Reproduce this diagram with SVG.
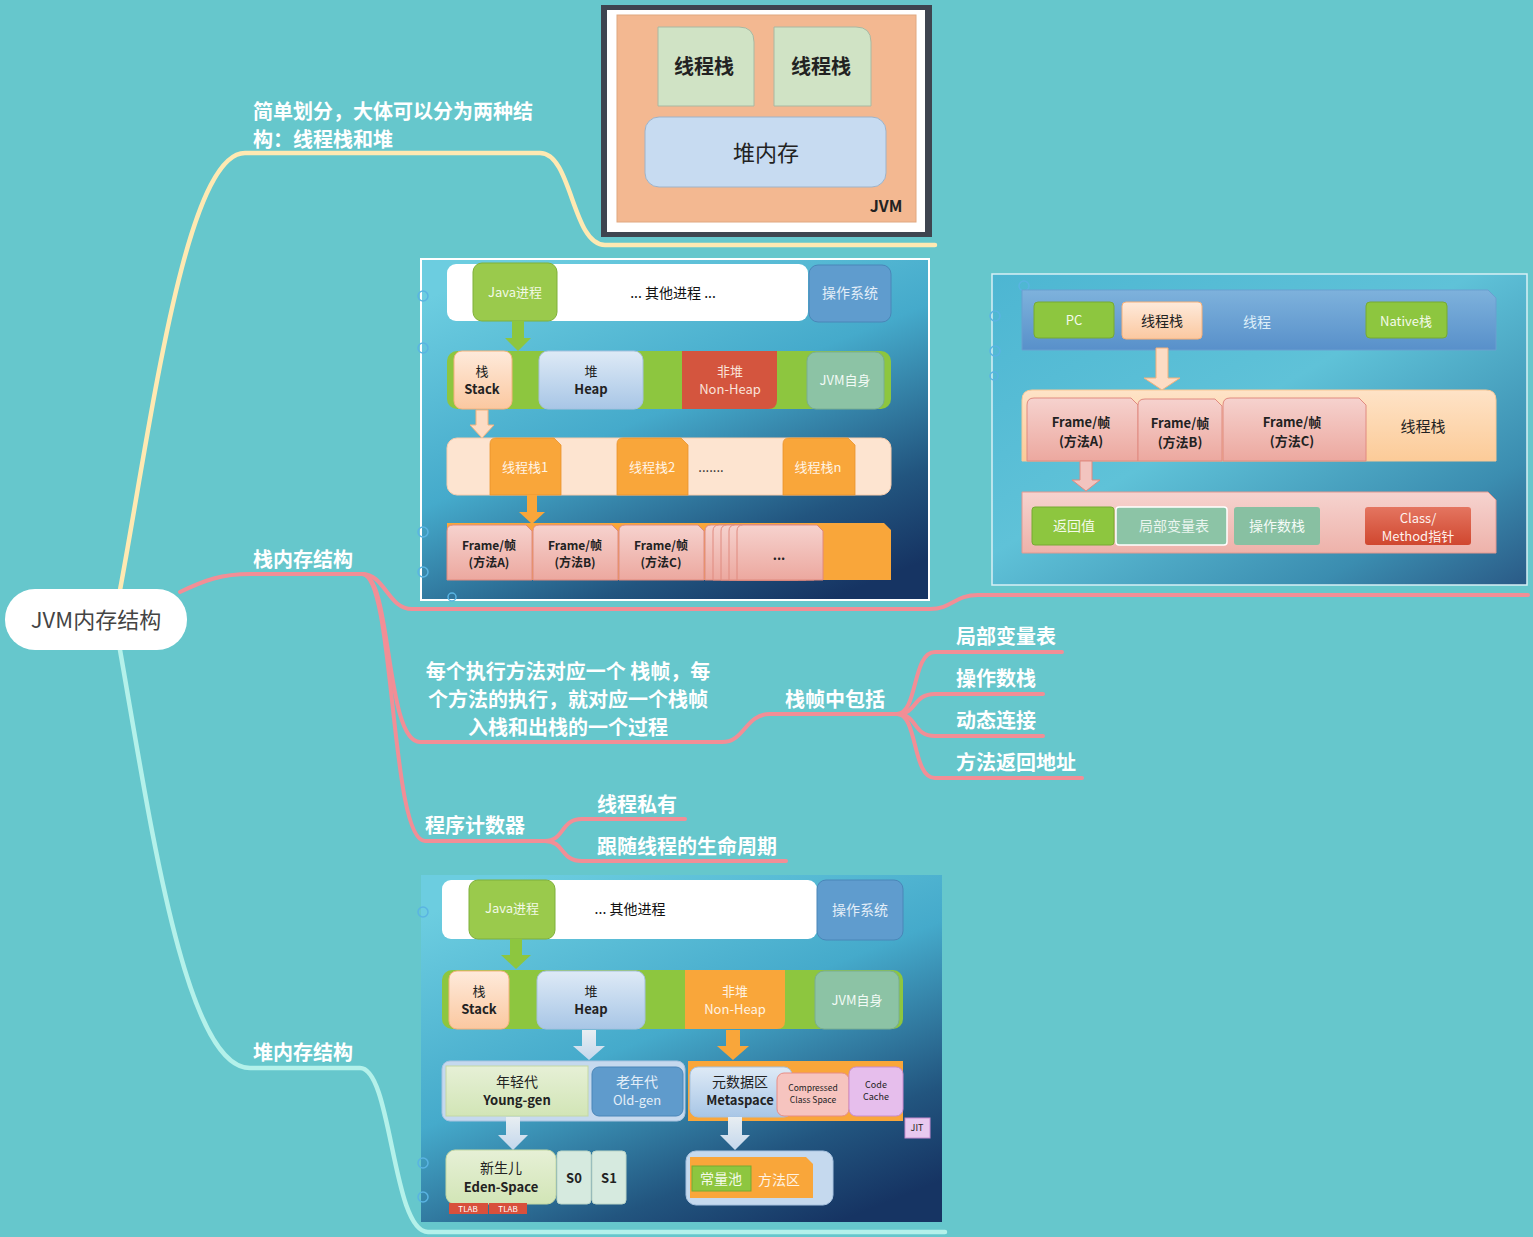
<svg xmlns="http://www.w3.org/2000/svg" width="1533" height="1237" viewBox="0 0 1533 1237">
<defs>
<style>
text{font-family:"Noto Sans CJK SC","Noto Sans",sans-serif;}
.lbl{fill:#ffffff;font-size:20px;font-weight:bold;}
.c{text-anchor:middle;}
.dk{fill:#222;}
.s13{font-size:13px;}
.s12{font-size:12px;}
.s14{font-size:14px;}
.b{font-weight:bold;}
.br{fill:none;stroke-linecap:round;stroke-linejoin:round;}
.pink{stroke:#F28E96;stroke-width:4;}
.yel{stroke:#FFE9B2;stroke-width:4.5;}
.mint{stroke:#B4F1EA;stroke-width:4.5;}
.grn{fill:#8DC63F;}
.org{fill:#F9A63A;}
.deco{fill:none;stroke:#5AB4E2;stroke-width:1.5;}
</style>
<linearGradient id="bg" x1="0.2" y1="0" x2="0.8" y2="1">
<stop offset="0" stop-color="#6CCDE0"/>
<stop offset="0.45" stop-color="#45AACB"/>
<stop offset="0.8" stop-color="#22557F"/>
<stop offset="1" stop-color="#163463"/>
</linearGradient>
<linearGradient id="bg2" x1="0" y1="0" x2="1" y2="1">
<stop offset="0" stop-color="#4DB6D2"/>
<stop offset="0.45" stop-color="#5FC2D8"/>
<stop offset="0.8" stop-color="#3B8DB0"/>
<stop offset="1" stop-color="#2A5A86"/>
</linearGradient>
<linearGradient id="peach" x1="0" y1="0" x2="0" y2="1">
<stop offset="0" stop-color="#FEEADB"/>
<stop offset="1" stop-color="#FBC8A0"/>
</linearGradient>
<linearGradient id="lblue" x1="0" y1="0" x2="0" y2="1">
<stop offset="0" stop-color="#DEEAF6"/>
<stop offset="1" stop-color="#A8C6E6"/>
</linearGradient>
<linearGradient id="frm" x1="0" y1="0" x2="0" y2="1">
<stop offset="0" stop-color="#F6D2CE"/>
<stop offset="1" stop-color="#ECA89F"/>
</linearGradient>
<linearGradient id="pband" x1="0" y1="0" x2="0" y2="1">
<stop offset="0" stop-color="#F6D3CF"/>
<stop offset="1" stop-color="#EEB2AA"/>
</linearGradient>
<linearGradient id="bband" x1="0" y1="0" x2="0" y2="1">
<stop offset="0" stop-color="#7EB2DC"/>
<stop offset="1" stop-color="#5890CA"/>
</linearGradient>
<linearGradient id="oband" x1="0" y1="0" x2="0" y2="1">
<stop offset="0" stop-color="#FEE3C7"/>
<stop offset="1" stop-color="#FCCB98"/>
</linearGradient>
<linearGradient id="red" x1="0" y1="0" x2="0" y2="1">
<stop offset="0" stop-color="#E47560"/>
<stop offset="1" stop-color="#D0472F"/>
</linearGradient>
<linearGradient id="lgrn" x1="0" y1="0" x2="0" y2="1">
<stop offset="0" stop-color="#E6F0D6"/>
<stop offset="1" stop-color="#D2E5B6"/>
</linearGradient>
<linearGradient id="arrl" x1="0" y1="0" x2="0" y2="1">
<stop offset="0" stop-color="#E8EEF2"/>
<stop offset="1" stop-color="#C3D7EC"/>
</linearGradient>
</defs>

<rect x="0" y="0" width="1533" height="1237" fill="#66C7CC"/>

<g id="connectors">
<path class="br yel" d="M120 590 C150 430 185 153 245 153 L540 153 C572 153 572 245 605 245 L935 245"/>
<path class="br mint" d="M120 650 C150 820 185 1068 250 1068 L360 1068 C392 1068 392 1232 428 1232 L945 1232"/>
<path class="br pink" d="M180 592 C205 580 222 574 250 574 L362 574"/>
<path class="br pink" d="M362 574 C385 574 388 609 412 609 L930 609 C952 609 955 595 978 595 L1528 595"/>
<path class="br pink" d="M362 574 C392 574 385 742 420 742 L722 742 C745 742 745 714 770 714 L897 714"/>
<path class="br pink" d="M362 574 C395 574 390 841 425 841 L545 841"/>
<path class="br pink" d="M897 714 C918 714 912 652 935 652 L1062 652"/>
<path class="br pink" d="M897 714 C918 714 912 694 935 694 L1043 694"/>
<path class="br pink" d="M897 714 C918 714 912 736 935 736 L1043 736"/>
<path class="br pink" d="M897 714 C918 714 912 778 935 778 L1082 778"/>
<path class="br pink" d="M545 841 C565 841 560 819 582 819 L685 819"/>
<path class="br pink" d="M545 841 C565 841 560 861 582 861 L786 861"/>
</g>

<g id="root">
<rect x="5" y="589" width="182" height="61" rx="30" fill="#ffffff"/>
<text x="96" y="628" class="c" font-size="22" fill="#444">JVM内存结构</text>
</g>

<g id="n-simple">
<text x="253" y="119" class="lbl">简单划分，大体可以分为两种结</text>
<text x="253" y="147" class="lbl">构：线程栈和堆</text>
</g>
<g id="n-stack"><text x="253" y="567" class="lbl">栈内存结构</text></g>
<g id="n-heap"><text x="253" y="1060" class="lbl">堆内存结构</text></g>
<g id="n-frame-desc">
<text x="568" y="679" class="lbl c">每个执行方法对应一个 栈帧，每</text>
<text x="568" y="707" class="lbl c">个方法的执行，就对应一个栈帧</text>
<text x="568" y="735" class="lbl c">入栈和出栈的一个过程</text>
</g>
<g id="n-frame-inc"><text x="785" y="707" class="lbl">栈帧中包括</text></g>
<g id="n-lv"><text x="956" y="644" class="lbl">局部变量表</text></g>
<g id="n-os"><text x="956" y="686" class="lbl">操作数栈</text></g>
<g id="n-dl"><text x="956" y="728" class="lbl">动态连接</text></g>
<g id="n-ra"><text x="956" y="770" class="lbl">方法返回地址</text></g>
<g id="n-pc"><text x="425" y="833" class="lbl">程序计数器</text></g>
<g id="n-priv"><text x="597" y="812" class="lbl">线程私有</text></g>
<g id="n-life"><text x="597" y="854" class="lbl">跟随线程的生命周期</text></g>

<!-- Image 1: simple JVM -->
<g id="img-jvm">
<rect x="601" y="5" width="331" height="232" fill="#3E4550"/>
<rect x="607" y="10" width="318" height="222" fill="#FFFFFF"/>
<rect x="617" y="15" width="299" height="207" fill="#F3B891" stroke="#E0A880" stroke-width="1"/>
<path d="M658 27 H739 Q754 27 754 42 V106 H658 Z" fill="#D0E3C5" stroke="#A9B8A2"/>
<path d="M774 27 H856 Q871 27 871 42 V106 H774 Z" fill="#D0E3C5" stroke="#A9B8A2"/>
<text x="704" y="74" class="c b" font-size="20" fill="#222">线程栈</text>
<text x="821" y="74" class="c b" font-size="20" fill="#222">线程栈</text>
<rect x="645" y="117" width="241" height="70" rx="14" fill="#C7DBF1" stroke="#9FB3C8"/>
<text x="766" y="161" class="c" font-size="22" fill="#222">堆内存</text>
<text x="886" y="212" class="c b" font-size="16" fill="#222">JVM</text>
</g>

<!-- Image 2: stack structure -->
<g id="img-stack">
<rect x="421" y="259" width="508" height="341" fill="url(#bg)" stroke="#FFFFFF" stroke-width="2"/>
<circle cx="423" cy="296" r="5" class="deco"/>
<circle cx="423" cy="348" r="5" class="deco"/>
<circle cx="423" cy="532" r="5" class="deco"/>
<circle cx="423" cy="572" r="5" class="deco"/>
<circle cx="452" cy="597" r="4" class="deco"/>
<rect x="447" y="264" width="361" height="57" rx="9" fill="#FFFFFF"/>
<rect x="473" y="263" width="84" height="58" rx="9" fill="#9ACA4C" stroke="#7FB03A"/>
<text x="515" y="297" class="c s13" fill="#F2F9E6">Java进程</text>
<text x="673" y="298" class="c s14" fill="#111">... 其他进程 ...</text>
<rect x="809" y="265" width="82" height="57" rx="9" fill="#5F9CCE" stroke="#4A86B8"/>
<text x="850" y="298" class="c s14" fill="#E3EEF8">操作系统</text>
<path d="M512 321 H524 V338 H531 L518 351 L505 338 H512 Z" class="grn"/>
<rect x="447" y="351" width="444" height="58" rx="10" class="grn"/>
<rect x="454" y="351" width="58" height="58" rx="8" fill="url(#peach)" stroke="#F5B27C"/>
<text x="482" y="376" class="c s13" fill="#222">栈</text>
<text x="482" y="394" class="c s13 b" fill="#222">Stack</text>
<rect x="539" y="351" width="104" height="58" rx="9" fill="url(#lblue)" stroke="#A5C1DE"/>
<text x="591" y="376" class="c s13" fill="#222">堆</text>
<text x="591" y="394" class="c s13 b" fill="#222">Heap</text>
<path d="M682 351 H777 V400 Q777 409 768 409 H682 Z" fill="#D4553E"/>
<text x="730" y="376" class="c s13" fill="#FAE3DA">非堆</text>
<text x="730" y="394" class="c s13" fill="#FAE3DA">Non-Heap</text>
<rect x="807" y="352" width="77" height="57" rx="9" fill="#8CC3A5" stroke="#79AE92"/>
<text x="845" y="385" class="c s13" fill="#F2FAF5">JVM自身</text>
<path d="M476 410 H488 V425 H494 L482 438 L470 425 H476 Z" fill="#FDDCC4" stroke="#F5B27C"/>
<rect x="447" y="438" width="444" height="57" rx="10" fill="#FDE4D0" stroke="#F8CDAE"/>
<path d="M496 438 H554 L561 445 V495 H490 V444 Q490 438 496 438 Z" class="org" stroke="#E8932C" stroke-width="0.8"/>
<text x="525" y="472" class="c s13" fill="#FFF4E6">线程栈1</text>
<path d="M623 438 H681 L688 445 V495 H617 V444 Q617 438 623 438 Z" class="org" stroke="#E8932C" stroke-width="0.8"/>
<text x="652" y="472" class="c s13" fill="#FFF4E6">线程栈2</text>
<text x="711" y="472" class="c s13" fill="#222">.......</text>
<path d="M789 438 H848 L855 445 V495 H783 V444 Q783 438 789 438 Z" class="org" stroke="#E8932C" stroke-width="0.8"/>
<text x="818" y="472" class="c s13" fill="#FFF4E6">线程栈n</text>
<path d="M527 495 H537 V512 H545 L532 524 L519 512 H527 Z" class="org"/>
<path d="M447 523 H884 L891 530 V580 H447 Z" class="org"/>
<path d="M447 580 V531 Q447 525 453 525 H526 L532 531 V580 Z" fill="url(#frm)" stroke="#E08A7E"/>
<path d="M533 580 V531 Q533 525 539 525 H612 L618 531 V580 Z" fill="url(#frm)" stroke="#E08A7E"/>
<path d="M619 580 V531 Q619 525 625 525 H698 L704 531 V580 Z" fill="url(#frm)" stroke="#E08A7E"/>
<path d="M705 580 V531 Q705 525 711 525 H784 L790 531 V580 Z" fill="url(#frm)" stroke="#E08A7E"/>
<path d="M713 580 V531 Q713 525 719 525 H792 L798 531 V580 Z" fill="url(#frm)" stroke="#E08A7E"/>
<path d="M721 580 V531 Q721 525 727 525 H800 L806 531 V580 Z" fill="url(#frm)" stroke="#E08A7E"/>
<path d="M729 580 V531 Q729 525 735 525 H808 L814 531 V580 Z" fill="url(#frm)" stroke="#E08A7E"/>
<path d="M737 580 V531 Q737 525 743 525 H817 L823 531 V580 Z" fill="url(#frm)" stroke="#E08A7E"/>
<text x="489" y="550" class="c s12 b" fill="#222">Frame/帧</text>
<text x="489" y="567" class="c s12 b" fill="#222">(方法A)</text>
<text x="575" y="550" class="c s12 b" fill="#222">Frame/帧</text>
<text x="575" y="567" class="c s12 b" fill="#222">(方法B)</text>
<text x="661" y="550" class="c s12 b" fill="#222">Frame/帧</text>
<text x="661" y="567" class="c s12 b" fill="#222">(方法C)</text>
<text x="779" y="560" class="c s13 b" fill="#222">...</text>
</g>

<!-- Image 3: thread / frame detail -->
<g id="img-thread">
<rect x="992" y="274" width="535" height="311" fill="url(#bg2)" stroke="#D8F0F5" stroke-width="1.5"/>
<circle cx="995" cy="316" r="5" class="deco"/>
<circle cx="995" cy="351" r="5" class="deco"/>
<circle cx="994" cy="376" r="4" class="deco"/>
<circle cx="1024" cy="286" r="5" class="deco"/>
<path d="M1022 290 H1488 L1496 298 V350 H1022 Z" fill="url(#bband)" stroke="#6A9FD0"/>
<rect x="1034" y="302" width="80" height="36" rx="4" class="grn" stroke="#77AA33"/>
<text x="1074" y="325" class="c s13" fill="#F4FAEA">PC</text>
<rect x="1122" y="302" width="80" height="37" rx="4" fill="url(#peach)" stroke="#F5B07A"/>
<text x="1162" y="326" class="c s14" fill="#222">线程栈</text>
<text x="1257" y="327" class="c s14" fill="#DCEEF9">线程</text>
<rect x="1366" y="302" width="81" height="36" rx="4" class="grn" stroke="#77AA33"/>
<text x="1406" y="326" class="c s13" fill="#F4FAEA">Native栈</text>
<path d="M1156 348 H1168 V378 H1180 L1162 390 L1144 378 H1156 Z" fill="#FDDCC4" stroke="#F5B07A"/>
<path d="M1032 390 H1486 Q1496 390 1496 400 V461 H1022 V400 Q1022 390 1032 390 Z" fill="url(#oband)" stroke="#F8C896"/>
<path d="M1027 461 V405 Q1027 398 1034 398 H1131 L1138 405 V461 Z" fill="url(#frm)" stroke="#E08A80"/>
<path d="M1138 461 V405 Q1138 399 1145 399 H1215 L1222 406 V461 Z" fill="url(#frm)" stroke="#E08A80"/>
<path d="M1223 461 V405 Q1223 398 1230 398 H1359 L1366 405 V461 Z" fill="url(#frm)" stroke="#E08A80"/>
<text x="1081" y="427" class="c s13 b" fill="#222">Frame/帧</text>
<text x="1081" y="446" class="c s13 b" fill="#222">(方法A)</text>
<text x="1180" y="428" class="c s13 b" fill="#222">Frame/帧</text>
<text x="1180" y="447" class="c s13 b" fill="#222">(方法B)</text>
<text x="1292" y="427" class="c s13 b" fill="#222">Frame/帧</text>
<text x="1292" y="446" class="c s13 b" fill="#222">(方法C)</text>
<text x="1423" y="432" class="c" font-size="15" fill="#222">线程栈</text>
<path d="M1080 461 H1092 V480 H1100 L1086 491 L1072 480 H1080 Z" fill="#F2C4BF" stroke="#E08A80"/>
<path d="M1022 492 H1488 L1496 500 V553 H1022 Z" fill="url(#pband)" stroke="#E29890"/>
<rect x="1032" y="507" width="82" height="38" rx="3" class="grn" stroke="#77AA33"/>
<text x="1074" y="531" class="c s14" fill="#F4FAEA">返回值</text>
<rect x="1116" y="507" width="111" height="38" rx="3" fill="#8CC4A6" stroke="#FFFFFF" stroke-width="1.5"/>
<text x="1174" y="531" class="c s14" fill="#EAF5EF">局部变量表</text>
<rect x="1234" y="507" width="86" height="38" rx="3" fill="#88C0A2"/>
<text x="1277" y="531" class="c s14" fill="#F4FBF7">操作数栈</text>
<rect x="1365" y="507" width="106" height="38" rx="3" fill="url(#red)"/>
<text x="1418" y="523" class="c s13" fill="#FFF2EE">Class/</text>
<text x="1418" y="541" class="c s13" fill="#FFF2EE">Method指针</text>
</g>

<!-- Image 4: heap structure -->
<g id="img-heap">
<rect x="421" y="875" width="521" height="347" fill="url(#bg)"/>
<circle cx="423" cy="912" r="5" class="deco"/>
<circle cx="423" cy="1163" r="5" class="deco"/>
<circle cx="423" cy="1197" r="5" class="deco"/>
<rect x="442" y="880" width="375" height="59" rx="9" fill="#FFFFFF"/>
<rect x="469" y="880" width="86" height="59" rx="9" fill="#9ACA4C" stroke="#7FB03A"/>
<text x="512" y="913" class="c s13" fill="#F2F9E6">Java进程</text>
<text x="630" y="914" class="c s14" fill="#111">... 其他进程</text>
<rect x="817" y="880" width="86" height="60" rx="9" fill="#5F9CCE" stroke="#4A86B8"/>
<text x="860" y="915" class="c s14" fill="#E3EEF8">操作系统</text>
<path d="M510 939 H522 V955 H531 L516 969 L501 955 H510 Z" class="grn"/>
<rect x="442" y="970" width="461" height="59" rx="10" class="grn"/>
<rect x="449" y="971" width="60" height="58" rx="8" fill="url(#peach)" stroke="#F5B27C"/>
<text x="479" y="996" class="c s13" fill="#222">栈</text>
<text x="479" y="1014" class="c s13 b" fill="#222">Stack</text>
<rect x="537" y="971" width="108" height="58" rx="9" fill="url(#lblue)" stroke="#A5C1DE"/>
<text x="591" y="996" class="c s13" fill="#222">堆</text>
<text x="591" y="1014" class="c s13 b" fill="#222">Heap</text>
<path d="M685 970 H785 V1021 Q785 1029 777 1029 H685 Z" class="org"/>
<text x="735" y="996" class="c s13" fill="#FFF3E3">非堆</text>
<text x="735" y="1014" class="c s13" fill="#FFF3E3">Non-Heap</text>
<rect x="815" y="971" width="84" height="58" rx="9" fill="#8CC3A5" stroke="#79AE92"/>
<text x="857" y="1005" class="c s13" fill="#F2FAF5">JVM自身</text>
<path d="M582 1030 H596 V1046 H605 L589 1060 L573 1046 H582 Z" fill="url(#arrl)"/>
<path d="M726 1030 H740 V1046 H749 L733 1060 L717 1046 H726 Z" class="org"/>
<rect x="442" y="1061" width="243" height="60" rx="8" fill="#C5D9EE" stroke="#A9C3E0"/>
<rect x="446" y="1066" width="142" height="50" fill="url(#lgrn)" stroke="#C4D8A4"/>
<text x="517" y="1087" class="c s14" fill="#222">年轻代</text>
<text x="517" y="1105" class="c s13 b" fill="#222">Young-gen</text>
<rect x="592" y="1067" width="91" height="49" rx="7" fill="#5F9BCC" stroke="#4A86B8"/>
<text x="637" y="1087" class="c s14" fill="#E3EEF8">老年代</text>
<text x="637" y="1105" class="c s13" fill="#E3EEF8">Old-gen</text>
<rect x="688" y="1061" width="215" height="60" class="org"/>
<rect x="690" y="1067" width="102" height="50" rx="8" fill="url(#lblue)" stroke="#A5C1DE"/>
<text x="740" y="1087" class="c s14" fill="#222">元数据区</text>
<text x="740" y="1105" class="c s13 b" fill="#222">Metaspace</text>
<rect x="777" y="1073" width="72" height="43" rx="7" fill="#F6C4BF" stroke="#E88C84"/>
<text x="813" y="1091" class="c" font-size="8.5" fill="#222">Compressed</text>
<text x="813" y="1103" class="c" font-size="8.5" fill="#222">Class Space</text>
<rect x="849" y="1067" width="54" height="49" rx="7" fill="#E6BEEC" stroke="#C88CD0"/>
<text x="876" y="1088" class="c" font-size="9" fill="#222">Code</text>
<text x="876" y="1100" class="c" font-size="9" fill="#222">Cache</text>
<rect x="905" y="1118" width="25" height="20" fill="#E8C9EF" stroke="#C88CD0"/>
<text x="917" y="1131" class="c" font-size="9" fill="#222">JIT</text>
<path d="M506 1117 H520 V1135 H528 L513 1150 L498 1135 H506 Z" fill="url(#arrl)"/>
<path d="M728 1117 H742 V1135 H750 L735 1150 L720 1135 H728 Z" fill="url(#arrl)"/>
<rect x="446" y="1150" width="110" height="54" rx="9" fill="url(#lgrn)" stroke="#C4D8A4"/>
<text x="501" y="1173" class="c s14" fill="#222">新生儿</text>
<text x="501" y="1192" class="c s13 b" fill="#222">Eden-Space</text>
<rect x="557" y="1151" width="34" height="53" rx="4" fill="#D6EADF" stroke="#BCD6C8"/>
<text x="574" y="1183" class="c s13 b" fill="#222">S0</text>
<rect x="592" y="1151" width="34" height="53" rx="4" fill="#D6EADF" stroke="#BCD6C8"/>
<text x="609" y="1183" class="c s13 b" fill="#222">S1</text>
<rect x="449" y="1203" width="39" height="11" fill="#D8503C"/>
<rect x="489" y="1203" width="38" height="11" fill="#D8503C"/>
<text x="468" y="1212" class="c" font-size="8" fill="#FFFFFF">TLAB</text>
<text x="508" y="1212" class="c" font-size="8" fill="#FFFFFF">TLAB</text>
<rect x="686" y="1151" width="147" height="54" rx="10" fill="#C5D9EE" stroke="#A9C3E0"/>
<path d="M690 1157 H806 L813 1164 V1198 H690 Z" class="org"/>
<rect x="692" y="1166" width="59" height="25" fill="#8DC63F" stroke="#77AA33"/>
<text x="721" y="1184" class="c s14" fill="#F4FAEA">常量池</text>
<text x="779" y="1185" class="c s14" fill="#FFF3E3">方法区</text>
</g>
</svg>
